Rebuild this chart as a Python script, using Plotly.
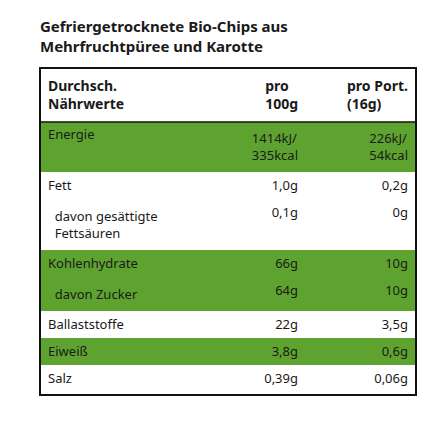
import plotly.graph_objects as go

title = "Gefriergetrocknete Bio-Chips aus<br>Mehrfruchtpüree und Karotte"
header = ["Durchsch.<br>Nährwerte", "pro<br>100g", "pro Port.<br>(16g)"]
names = ["Energie", "Fett", "  davon gesättigte<br>  Fettsäuren", "Kohlenhydrate",
         "  davon Zucker", "Ballaststoffe", "Eiweiß", "Salz"]
per100 = ["1414kJ/<br>335kcal", "1,0g", "0,1g", "66g", "64g", "22g", "3,8g", "0,39g"]
perPortion = ["226kJ/<br>54kcal", "0,2g", "0g", "10g", "10g", "3,5g", "0,6g", "0,06g"]
highlight = [True, False, False, True, True, False, True, False]

green = "#5ea32f"
fills = [green if h else "white" for h in highlight]
names = [n.replace("  ", "&nbsp;&nbsp;") for n in names]

fig = go.Figure(go.Table(
    domain=dict(x=[32/440, 408/440], y=[1-390/440, 1-60/440]),
    columnwidth=[168, 98, 110],
    header=dict(values=[f"<b>{h}</b>" for h in header],
                align=["left", "right", "right"], height=52,
                fill_color="white", line=dict(color="white", width=1),
                font=dict(family="Noto Sans", size=14, color="#1a1a1a")),
    cells=dict(values=[names, per100, perPortion],
               align=["left", "right", "right"], height=27,
               fill_color=[fills, fills, fills],
               line=dict(color=[fills, fills, fills], width=1),
               font=dict(family="Noto Sans", size=13, color="#1a1a1a")),
))

fig.add_shape(type="rect", xref="paper", yref="paper",
              x0=32/440, x1=408/440, y0=1-387/440, y1=1-60/440,
              line=dict(color="#111", width=2))
fig.add_shape(type="line", xref="paper", yref="paper",
              x0=32/440, x1=408/440, y0=1-114/440, y1=1-114/440,
              line=dict(color="#111", width=1.5))
fig.add_annotation(text=f"<b>{title}</b>", xref="paper", yref="paper",
                   x=30/440, y=1-6/440, xanchor="left", yanchor="top",
                   align="left", showarrow=False,
                   font=dict(family="Noto Sans", size=15, color="#1a1a1a"))

fig.update_layout(width=440, height=440, margin=dict(l=0, r=0, t=0, b=0),
                  paper_bgcolor="white")
fig.write_html("out.html")
